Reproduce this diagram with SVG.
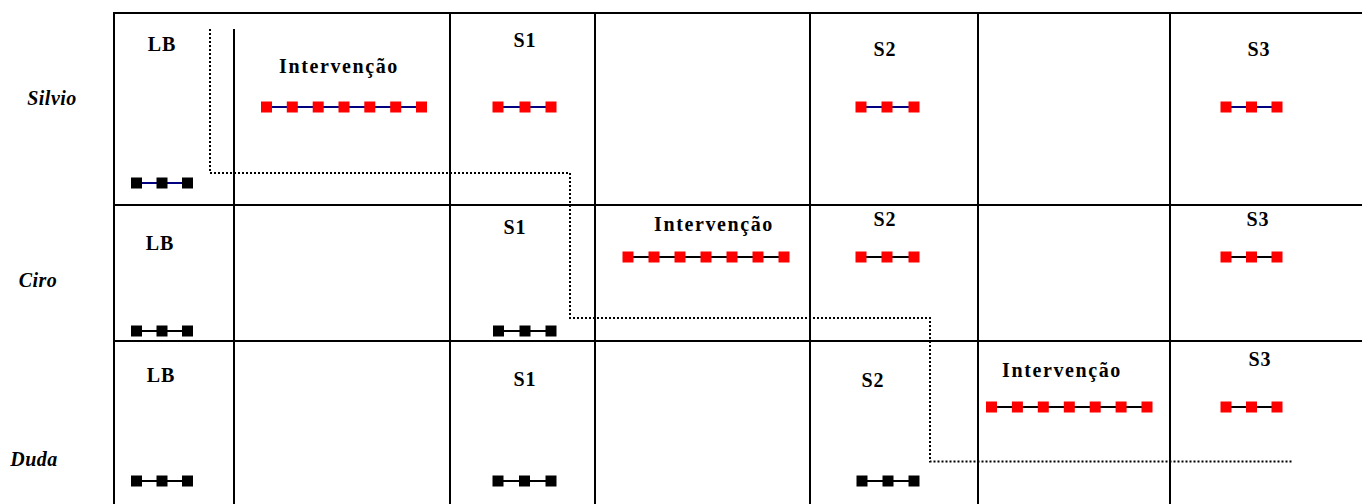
<svg xmlns="http://www.w3.org/2000/svg" width="1365" height="504" viewBox="0 0 1365 504">
  <style>
    .grid { stroke: #000; stroke-width: 2; fill: none; }
    .lbl { font-family: "Liberation Serif", "Times New Roman", serif; font-weight: bold; font-size: 20px; fill: #000; text-anchor: middle; letter-spacing: 1px; }
    .int { letter-spacing: 1.6px; }
    .who { font-family: "Liberation Serif", "Times New Roman", serif; font-weight: bold; font-style: italic; font-size: 20px; fill: #000; text-anchor: middle; letter-spacing: 0.5px; }
    .navy { stroke: #000080; stroke-width: 2; }
    .blk { stroke: #000; stroke-width: 2; }
    .red { fill: #ff0000; }
    .dark { fill: #000; }
    .phase { stroke: #000; stroke-width: 2; stroke-dasharray: 2 2; fill: none; }
  </style>
  <rect width="1365" height="504" fill="#fff"/>

  <!-- table grid -->
  <g id="grid" class="grid">
    <line x1="113" y1="13" x2="1362" y2="13"/>
    <line x1="113" y1="205" x2="1362" y2="205"/>
    <line x1="113" y1="341" x2="1362" y2="341"/>
    <line x1="114" y1="12" x2="114" y2="504"/>
    <line x1="234" y1="29" x2="234" y2="504"/>
    <line x1="450" y1="12" x2="450" y2="504"/>
    <line x1="595" y1="12" x2="595" y2="504"/>
    <line x1="810" y1="12" x2="810" y2="504"/>
    <line x1="978" y1="12" x2="978" y2="504"/>
    <line x1="1170" y1="12" x2="1170" y2="504"/>
  </g>

  <!-- participant names -->
  <g id="names">
    <text class="who" x="52" y="105">Silvio</text>
    <text class="who" x="38" y="287">Ciro</text>
    <text class="who" x="34" y="466">Duda</text>
  </g>

  <!-- Silvio -->
  <g id="silvio-lb">
    <text class="lbl" x="162" y="51">LB</text>
    <line class="navy" x1="136.5" y1="183" x2="187.5" y2="183"/>
    <rect class="dark" x="131" y="177.5" width="11" height="11"/>
    <rect class="dark" x="156.5" y="177.5" width="11" height="11"/>
    <rect class="dark" x="182" y="177.5" width="11" height="11"/>
  </g>
  <g id="silvio-int">
    <text class="lbl int" x="339" y="73">Intervenção</text>
    <line class="navy" x1="266.5" y1="107" x2="421.5" y2="107"/>
    <rect class="red" x="261" y="101.5" width="11" height="11"/>
    <rect class="red" x="286.8" y="101.5" width="11" height="11"/>
    <rect class="red" x="312.7" y="101.5" width="11" height="11"/>
    <rect class="red" x="338.5" y="101.5" width="11" height="11"/>
    <rect class="red" x="364.3" y="101.5" width="11" height="11"/>
    <rect class="red" x="390.2" y="101.5" width="11" height="11"/>
    <rect class="red" x="416" y="101.5" width="11" height="11"/>
  </g>
  <g id="silvio-s1">
    <text class="lbl" x="525" y="46.5">S1</text>
    <line class="navy" x1="498" y1="107" x2="551" y2="107"/>
    <rect class="red" x="492.5" y="101.5" width="11" height="11"/>
    <rect class="red" x="519.5" y="101.5" width="11" height="11"/>
    <rect class="red" x="545.5" y="101.5" width="11" height="11"/>
  </g>
  <g id="silvio-s2">
    <text class="lbl" x="885" y="56">S2</text>
    <line class="navy" x1="861" y1="107" x2="914" y2="107"/>
    <rect class="red" x="855.5" y="101.5" width="11" height="11"/>
    <rect class="red" x="881.5" y="101.5" width="11" height="11"/>
    <rect class="red" x="908.5" y="101.5" width="11" height="11"/>
  </g>
  <g id="silvio-s3">
    <text class="lbl" x="1259" y="56">S3</text>
    <line class="navy" x1="1226" y1="107" x2="1277" y2="107"/>
    <rect class="red" x="1220.5" y="101.5" width="11" height="11"/>
    <rect class="red" x="1246" y="101.5" width="11" height="11"/>
    <rect class="red" x="1271.5" y="101.5" width="11" height="11"/>
  </g>

  <!-- Ciro -->
  <g id="ciro-lb">
    <text class="lbl" x="160" y="250">LB</text>
    <line class="blk" x1="136.5" y1="331" x2="187.5" y2="331"/>
    <rect class="dark" x="131" y="325.5" width="11" height="11"/>
    <rect class="dark" x="156.5" y="325.5" width="11" height="11"/>
    <rect class="dark" x="182" y="325.5" width="11" height="11"/>
  </g>
  <g id="ciro-s1">
    <text class="lbl" x="515" y="234">S1</text>
    <line class="blk" x1="498.5" y1="331" x2="551" y2="331"/>
    <rect class="dark" x="493" y="325.5" width="11" height="11"/>
    <rect class="dark" x="519.5" y="325.5" width="11" height="11"/>
    <rect class="dark" x="545.5" y="325.5" width="11" height="11"/>
  </g>
  <g id="ciro-int">
    <text class="lbl int" x="714" y="231">Intervenção</text>
    <line class="blk" x1="628" y1="257" x2="784" y2="257"/>
    <rect class="red" x="622.5" y="251.5" width="11" height="11"/>
    <rect class="red" x="648.5" y="251.5" width="11" height="11"/>
    <rect class="red" x="674.5" y="251.5" width="11" height="11"/>
    <rect class="red" x="700.5" y="251.5" width="11" height="11"/>
    <rect class="red" x="726.5" y="251.5" width="11" height="11"/>
    <rect class="red" x="752.5" y="251.5" width="11" height="11"/>
    <rect class="red" x="778.5" y="251.5" width="11" height="11"/>
  </g>
  <g id="ciro-s2">
    <text class="lbl" x="885" y="226">S2</text>
    <line class="blk" x1="861" y1="257" x2="914" y2="257"/>
    <rect class="red" x="855.5" y="251.5" width="11" height="11"/>
    <rect class="red" x="881.5" y="251.5" width="11" height="11"/>
    <rect class="red" x="908.5" y="251.5" width="11" height="11"/>
  </g>
  <g id="ciro-s3">
    <text class="lbl" x="1258" y="226">S3</text>
    <line class="blk" x1="1226" y1="257" x2="1277" y2="257"/>
    <rect class="red" x="1220.5" y="251.5" width="11" height="11"/>
    <rect class="red" x="1246" y="251.5" width="11" height="11"/>
    <rect class="red" x="1271.5" y="251.5" width="11" height="11"/>
  </g>

  <!-- Duda -->
  <g id="duda-lb">
    <text class="lbl" x="161" y="382">LB</text>
    <line class="blk" x1="136.5" y1="481" x2="187.5" y2="481"/>
    <rect class="dark" x="131" y="475.5" width="11" height="11"/>
    <rect class="dark" x="156.5" y="475.5" width="11" height="11"/>
    <rect class="dark" x="182" y="475.5" width="11" height="11"/>
  </g>
  <g id="duda-s1">
    <text class="lbl" x="525" y="386">S1</text>
    <line class="blk" x1="498" y1="481" x2="551" y2="481"/>
    <rect class="dark" x="492.5" y="475.5" width="11" height="11"/>
    <rect class="dark" x="519" y="475.5" width="11" height="11"/>
    <rect class="dark" x="545.5" y="475.5" width="11" height="11"/>
  </g>
  <g id="duda-s2">
    <text class="lbl" x="873" y="386.5">S2</text>
    <line class="blk" x1="862" y1="481" x2="914" y2="481"/>
    <rect class="dark" x="856.5" y="475.5" width="11" height="11"/>
    <rect class="dark" x="882.5" y="475.5" width="11" height="11"/>
    <rect class="dark" x="908.5" y="475.5" width="11" height="11"/>
  </g>
  <g id="duda-int">
    <text class="lbl int" x="1062" y="377">Intervenção</text>
    <line class="blk" x1="991.5" y1="407" x2="1147" y2="407"/>
    <rect class="red" x="986" y="401.5" width="11" height="11"/>
    <rect class="red" x="1011.9" y="401.5" width="11" height="11"/>
    <rect class="red" x="1037.8" y="401.5" width="11" height="11"/>
    <rect class="red" x="1063.8" y="401.5" width="11" height="11"/>
    <rect class="red" x="1089.7" y="401.5" width="11" height="11"/>
    <rect class="red" x="1115.6" y="401.5" width="11" height="11"/>
    <rect class="red" x="1141.5" y="401.5" width="11" height="11"/>
  </g>
  <g id="duda-s3">
    <text class="lbl" x="1260" y="365.5">S3</text>
    <line class="blk" x1="1226" y1="407" x2="1277" y2="407"/>
    <rect class="red" x="1220.5" y="401.5" width="11" height="11"/>
    <rect class="red" x="1246" y="401.5" width="11" height="11"/>
    <rect class="red" x="1271.5" y="401.5" width="11" height="11"/>
  </g>

  <!-- staggered phase-change line -->
  <g id="connectors">
    <path class="phase" d="M210 29 V173 H570 V318 H930 V461.5 H1292"/>
  </g>
</svg>
